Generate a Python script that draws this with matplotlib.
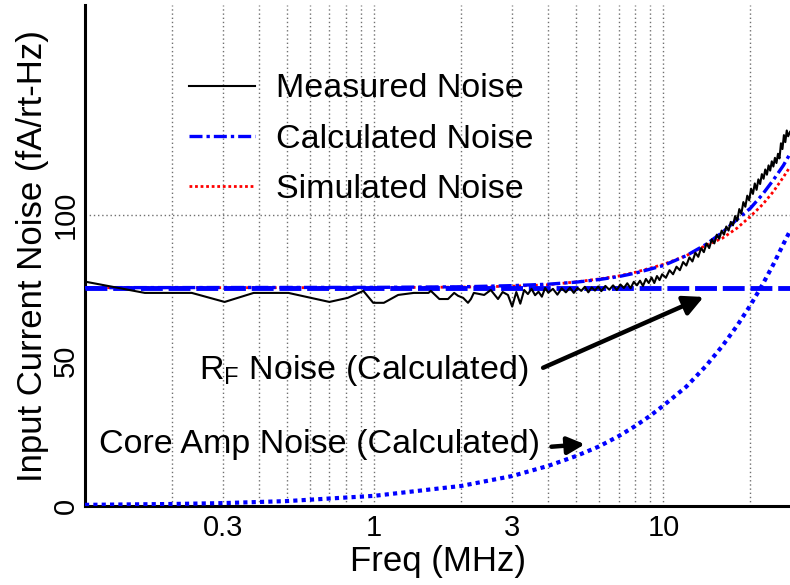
import numpy as np
import matplotlib
matplotlib.use("Agg")
import matplotlib.pyplot as plt
from matplotlib.ticker import FixedLocator, NullFormatter

plt.rcParams['font.family'] = ['Liberation Sans', 'DejaVu Sans']
plt.rcParams['mathtext.fontset'] = 'custom'
plt.rcParams['mathtext.rm'] = 'Liberation Sans'

# ---- data (freq in MHz, noise in fA/rt-Hz) ----
meas_f = [0.101, 0.161, 0.234, 0.304, 0.383, 0.478, 0.505, 0.70, 0.81, 0.917,
          0.992, 1.08, 1.21, 1.37, 1.54, 1.57, 1.68, 1.80, 1.89, 1.95,
          2.03, 2.11, 2.16, 2.21, 2.40, 2.53, 2.68, 2.78, 2.90,
          3.0, 3.1, 3.2, 3.3, 3.4, 3.5, 3.6, 3.7, 3.8, 3.9,
          4.0, 4.15, 4.3, 4.45, 4.6, 4.75, 4.9, 5.05, 5.2, 5.35,
          5.5, 5.65, 5.8, 5.95, 6.1, 6.3, 6.5, 6.7, 6.9, 7.1,
          7.3, 7.5, 7.7, 7.9, 8.1, 8.3, 8.5, 8.7, 8.9, 9.1,
          9.3, 9.5, 9.7, 9.9, 10.2, 10.5, 10.8, 11.1, 11.4, 11.7,
          12.0, 12.3, 12.6, 12.9, 13.2, 13.5, 13.8, 14.1, 14.4, 14.7,
          15.0, 15.3, 15.6, 15.9, 16.2, 16.5, 16.8, 17.1, 17.4, 17.7,
          18.0, 18.3, 18.6, 18.9, 19.2, 19.5, 19.8, 20.1, 20.4, 20.7,
          21.0, 21.3, 21.6, 21.9, 22.2, 22.5, 22.8, 23.1, 23.4, 23.7,
          24.0, 24.3, 24.6, 24.9, 25.2, 25.5, 25.8, 26.1, 26.4, 26.7,
          27.0, 27.4]
meas_v = [77.0, 73.2, 73.2, 70.1, 73.2, 73.2, 73.2, 70.1, 71.5, 73.9,
          69.8, 69.8, 72.5, 73.2, 73.2, 73.9, 71.1, 71.1, 73.2, 72.2,
          71.5, 69.8, 71.1, 73.2, 72.5, 74.2, 71.1, 73.5, 72.5,
          68.5, 73.5, 69.5, 74.2, 72.8, 74.6, 72.4, 73.6, 71.9, 74.9,
          73.3, 74.6, 72.6, 74.8, 73.4, 75.0, 73.2, 74.9, 73.9, 75.3,
          73.4, 75.1, 74.0, 75.4, 73.8, 75.6, 74.3, 75.8, 74.2, 76.1,
          74.9, 76.5, 74.8, 77.0, 75.8, 77.4, 75.6, 78.0, 76.6, 78.5,
          76.6, 79.0, 77.6, 79.6, 78.4, 81.0, 79.6, 82.2, 81.0, 83.8,
          82.6, 85.4, 84.0, 87.0, 85.6, 88.6, 87.2, 90.2, 88.6, 91.6,
          90.2, 93.2, 91.8, 94.6, 93.2, 96.0, 94.6, 97.6, 96.4, 99.6,
          98.0, 102.0, 100.4, 104.4, 102.8, 106.6, 105.0, 109.0, 107.2, 110.8,
          108.6, 112.2, 110.6, 114.0, 112.4, 115.6, 113.8, 117.0, 115.2, 118.4,
          116.6, 119.6, 117.8, 121.0, 119.4, 124.6, 122.6, 127.4, 125.0, 129.0,
          127.0, 128.5]

calc_f = [0.1, 1, 2, 3, 4, 5, 6, 7, 8, 10, 12, 14, 16, 18, 20, 22, 24, 26, 27.4]
calc_v = [75, 75.1, 75.3, 75.7, 76.2, 76.9, 77.8, 78.8, 80.0, 82.6, 86.0,
          89.8, 94.0, 98.5, 102.3, 107.0, 112.0, 117.0, 121.0]

sim_f = [0.1, 1, 2, 3, 4, 5, 6, 7, 8, 10, 12, 14, 16, 18, 20, 22, 24, 26, 27.4]
sim_v = [75, 75, 75.2, 75.5, 76.0, 77.0, 78.0, 79.0, 80.3, 83.0, 86.0,
         89.5, 92.0, 95.5, 99.5, 103.5, 108.0, 113.0, 116.5]

rf_f = [0.1, 27.4]
rf_v = [75, 75]

core_f = [0.1, 0.2, 0.3, 0.5, 1, 2, 3, 4, 5, 6, 7, 8, 9, 10, 12, 14, 16,
          18, 20, 22, 24, 26, 27.4]
core_v = [0.4, 0.7, 1.0, 1.7, 3.5, 6.9, 10.3, 13.8, 17.2, 20.5, 24.0, 27.5,
          31.0, 34.5, 41.0, 48.0, 55.0, 62.0, 69.0, 76.0, 83.0, 90.0, 94.5]

xticks = [0.3, 1, 3, 10]
xtick_labels = ['0.3', '1', '3', '10']
yticks = [0, 50, 100]

# ---- figure ----
fig = plt.figure(figsize=(7.9, 5.85), dpi=100)
ax = fig.add_axes([0.1076, 0.135, 0.8924, 0.856])

grid_kw = dict(color='#707070', lw=1.0, ls=(0, (1, 2)), zorder=0)
minor = [0.2, 0.3, 0.4, 0.5, 0.6, 0.7, 0.8, 0.9, 1, 2, 3, 4, 5, 6, 7, 8, 9, 10, 20]
for xv in minor:
    ax.axvline(xv, **grid_kw)
ax.axhline(100, **grid_kw)

ax.plot(sim_f, sim_v, color='#ff0000', lw=2.0, ls=(0, (1, 1)), zorder=2,
        label='Simulated Noise')
ax.plot(calc_f, calc_v, color='#0000ff', lw=2.4, ls=(0, (3.9, 1.2, 1, 1.2)), zorder=3,
        label='Calculated Noise')
ax.plot(rf_f, rf_v, color='#0000ff', lw=3.5, ls=(0, (4.5, 1.2)), zorder=3)
ax.plot(core_f, core_v, color='#0000ff', lw=3.0, ls=(0, (1, 1)), zorder=3)
ax.plot(meas_f, meas_v, color='black', lw=1.5, zorder=4, label='Measured Noise')

ax.set_xscale('log')
ax.set_xlim(0.1, 27.4)
ax.set_ylim(0, 172)

ax.xaxis.set_major_locator(FixedLocator(xticks))
ax.set_xticklabels(xtick_labels)
ax.xaxis.set_minor_formatter(NullFormatter())
ax.set_yticks(yticks)
ax.set_yticklabels([str(v) for v in yticks], rotation=90, va='center')
ax.tick_params(axis='both', which='both', length=0, labelsize=21)
ax.tick_params(axis='x', pad=6)
ax.tick_params(axis='y', pad=4)

for s in ['top', 'right']:
    ax.spines[s].set_visible(False)
for s in ['left', 'bottom']:
    ax.spines[s].set_linewidth(2.2)

ax.set_xlabel('Freq (MHz)', fontsize=25, labelpad=2)
ax.set_ylabel('Input Current Noise (fA/rt-Hz)', fontsize=25, labelpad=2)

h, l = ax.get_legend_handles_labels()
order = [2, 1, 0]
ax.legend([h[i] for i in order], [l[i] for i in order], loc='upper left',
          bbox_to_anchor=(0.104, 0.925), frameon=False, fontsize=24.5,
          handlelength=1.95, handletextpad=0.62, labelspacing=0.57)

ax.text(0.247, 46.7, r'R$_\mathregular{F}$ Noise (Calculated)', fontsize=24.5,
        va='center', ha='left')
ax.annotate('', xy=(14.06, 72.2), xytext=(3.76, 47.1),
            arrowprops=dict(arrowstyle='-|>', lw=3.2, color='black', mutation_scale=30))
ax.text(0.112, 21.0, 'Core Amp Noise (Calculated)', fontsize=24.5,
        va='center', ha='left')
ax.annotate('', xy=(5.47, 21.3), xytext=(4.01, 20.3),
            arrowprops=dict(arrowstyle='-|>', lw=3.2, color='black', mutation_scale=26))

fig.savefig('out.png', dpi=100)
